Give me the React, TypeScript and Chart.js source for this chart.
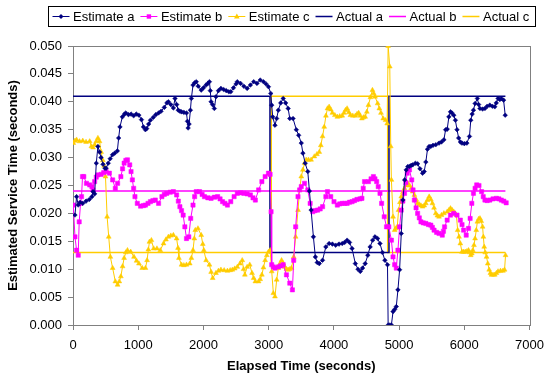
import React, { useEffect, useRef } from 'react';
import { Chart, registerables } from 'chart.js';

Chart.register(...registerables);

const FONT = 'Arial, "Liberation Sans", sans-serif';
const NAVY = '#000080';
const MAGENTA = '#FF00FF';
const GOLD = '#FFCC00';

const seriesLabels = ['Estimate a', 'Estimate b', 'Estimate c', 'Actual a', 'Actual b', 'Actual c'];
const xTitle = 'Elapsed Time (seconds)';
const yTitle = 'Estimated Service Time (seconds)';

// [elapsed seconds, service time seconds]
const estimateA: [number, number][] = [
  [30,0.0197],[55,0.0230],[80,0.0215],[110,0.0220],[150,0.0218],[200,0.0222],[250,0.0225],[290,0.0230],[307,0.0239],[332,0.0235],[357,0.0290],[382,0.0320],[407,0.0310],[430,0.0300],[460,0.0288],[490,0.0281],[508,0.0281],[540,0.0290],[570,0.0298],[606,0.0305],[640,0.0308],[680,0.0312],[700,0.0335],[720,0.0355],[757,0.0373],[790,0.0378],[810,0.0380],[850,0.0377],[890,0.0378],[930,0.0375],[970,0.0378],[1010,0.0376],[1050,0.0368],[1080,0.0355],[1110,0.0350],[1130,0.0352],[1160,0.0360],[1187,0.0367],[1230,0.0372],[1270,0.0377],[1312,0.0380],[1350,0.0383],[1400,0.0390],[1440,0.0398],[1463,0.0400],[1500,0.0395],[1539,0.0389],[1564,0.0406],[1590,0.0395],[1614,0.0385],[1640,0.0383],[1664,0.0382],[1700,0.0381],[1740,0.0380],[1755,0.0365],[1765,0.0353],[1780,0.0360],[1800,0.0385],[1815,0.0406],[1840,0.0430],[1865,0.0434],[1890,0.0436],[1920,0.0428],[1966,0.0421],[2000,0.0425],[2040,0.0430],[2067,0.0433],[2092,0.0436],[2105,0.0420],[2117,0.0400],[2140,0.0395],[2167,0.0388],[2192,0.0409],[2230,0.0420],[2268,0.0424],[2310,0.0422],[2350,0.0420],[2390,0.0418],[2419,0.0418],[2460,0.0425],[2500,0.0432],[2519,0.0436],[2569,0.0433],[2620,0.0428],[2670,0.0424],[2720,0.0430],[2771,0.0436],[2821,0.0433],[2871,0.0439],[2921,0.0436],[2960,0.0432],[2997,0.0427],[3032,0.0415],[3047,0.0394],[3062,0.0373],[3097,0.0358],[3123,0.0370],[3148,0.0385],[3185,0.0398],[3223,0.0406],[3260,0.0398],[3299,0.0388],[3324,0.0370],[3374,0.0370],[3424,0.0350],[3460,0.0340],[3500,0.0326],[3525,0.0308],[3560,0.0290],[3600,0.0275],[3625,0.0240],[3651,0.0206],[3686,0.0158],[3716,0.0122],[3745,0.0112],[3776,0.0110],[3826,0.0116],[3877,0.0140],[3927,0.0146],[3977,0.0145],[4028,0.0143],[4078,0.0145],[4128,0.0146],[4165,0.0148],[4203,0.0152],[4240,0.0148],[4279,0.0137],[4329,0.0110],[4370,0.0100],[4405,0.0096],[4440,0.0102],[4480,0.0110],[4520,0.0125],[4556,0.0140],[4595,0.0152],[4631,0.0158],[4670,0.0155],[4707,0.0146],[4745,0.0130],[4782,0.0116],[4822,0.0108],[4832,0.0000],[4857,0.0000],[4882,0.0000],[4907,0.0024],[4932,0.0028],[4957,0.0033],[4982,0.0063],[5008,0.0099],[5033,0.0164],[5058,0.0224],[5085,0.0260],[5109,0.0278],[5134,0.0284],[5159,0.0284],[5184,0.0286],[5209,0.0287],[5250,0.0290],[5284,0.0289],[5320,0.0280],[5360,0.0272],[5385,0.0275],[5410,0.0292],[5435,0.0315],[5460,0.0320],[5486,0.0320],[5520,0.0322],[5562,0.0323],[5612,0.0326],[5650,0.0328],[5687,0.0332],[5713,0.0350],[5738,0.0351],[5763,0.0373],[5788,0.0382],[5810,0.0380],[5838,0.0376],[5863,0.0367],[5888,0.0350],[5913,0.0335],[5940,0.0328],[5964,0.0326],[6000,0.0325],[6039,0.0326],[6079,0.0338],[6099,0.0367],[6120,0.0378],[6140,0.0385],[6165,0.0397],[6200,0.0406],[6220,0.0395],[6240,0.0388],[6280,0.0387],[6316,0.0388],[6350,0.0392],[6391,0.0394],[6430,0.0392],[6467,0.0391],[6490,0.0398],[6517,0.0406],[6545,0.0404],[6568,0.0406],[6602,0.0403],[6627,0.0376]
];

const estimateB: [number, number][] = [
  [5,0.0215],[30,0.0158],[55,0.0134],[80,0.0125],[95,0.0185],[116,0.0218],[131,0.0230],[146,0.0266],[166,0.0266],[206,0.0254],[256,0.0251],[290,0.0248],[307,0.0242],[332,0.0257],[357,0.0265],[382,0.0269],[432,0.0270],[470,0.0273],[508,0.0275],[558,0.0272],[608,0.0260],[649,0.0245],[684,0.0254],[734,0.0266],[760,0.0280],[784,0.0290],[810,0.0295],[835,0.0296],[870,0.0287],[890,0.0275],[910,0.0260],[930,0.0245],[950,0.0230],[986,0.0218],[1036,0.0213],[1080,0.0214],[1111,0.0215],[1150,0.0218],[1187,0.0221],[1225,0.0223],[1262,0.0224],[1312,0.0218],[1363,0.0230],[1400,0.0234],[1438,0.0236],[1490,0.0238],[1539,0.0239],[1589,0.0233],[1615,0.0222],[1639,0.0212],[1664,0.0205],[1689,0.0197],[1715,0.0176],[1740,0.0155],[1775,0.0158],[1805,0.0191],[1840,0.0215],[1865,0.0230],[1890,0.0239],[1941,0.0239],[1980,0.0234],[2016,0.0230],[2067,0.0228],[2117,0.0227],[2168,0.0229],[2218,0.0230],[2255,0.0226],[2293,0.0221],[2330,0.0218],[2368,0.0215],[2419,0.0221],[2470,0.0230],[2519,0.0236],[2570,0.0237],[2620,0.0236],[2670,0.0235],[2720,0.0233],[2760,0.0228],[2796,0.0224],[2846,0.0242],[2896,0.0257],[2946,0.0266],[2997,0.0272],[3022,0.0270],[3037,0.0203],[3047,0.0108],[3072,0.0104],[3097,0.0102],[3148,0.0104],[3185,0.0106],[3223,0.0108],[3273,0.0090],[3324,0.0075],[3364,0.0063],[3384,0.0116],[3414,0.0176],[3450,0.0230],[3475,0.0242],[3500,0.0248],[3550,0.0254],[3600,0.0242],[3636,0.0218],[3676,0.0203],[3710,0.0205],[3751,0.0206],[3790,0.0208],[3827,0.0212],[3877,0.0230],[3902,0.0239],[3952,0.0230],[4002,0.0221],[4053,0.0215],[4090,0.0217],[4128,0.0218],[4165,0.0218],[4203,0.0218],[4240,0.0220],[4279,0.0221],[4316,0.0223],[4354,0.0225],[4400,0.0226],[4430,0.0227],[4450,0.0245],[4470,0.0257],[4530,0.0257],[4570,0.0262],[4606,0.0266],[4630,0.0262],[4656,0.0257],[4680,0.0248],[4707,0.0236],[4732,0.0218],[4772,0.0194],[4807,0.0176],[4842,0.0176],[4882,0.0152],[4907,0.0122],[4932,0.0108],[4957,0.0102],[4982,0.0134],[5008,0.0176],[5033,0.0206],[5058,0.0222],[5083,0.0236],[5104,0.0255],[5124,0.0272],[5159,0.0278],[5194,0.0260],[5214,0.0242],[5234,0.0224],[5260,0.0210],[5284,0.0200],[5310,0.0192],[5335,0.0185],[5370,0.0183],[5410,0.0182],[5450,0.0180],[5486,0.0179],[5510,0.0175],[5536,0.0170],[5575,0.0166],[5612,0.0164],[5662,0.0161],[5680,0.0168],[5697,0.0176],[5737,0.0188],[5788,0.0197],[5838,0.0200],[5888,0.0197],[5939,0.0188],[5965,0.0180],[5989,0.0170],[6029,0.0161],[6064,0.0173],[6089,0.0191],[6115,0.0218],[6140,0.0236],[6165,0.0245],[6190,0.0251],[6225,0.0250],[6265,0.0239],[6290,0.0230],[6316,0.0224],[6350,0.0223],[6391,0.0224],[6440,0.0226],[6492,0.0227],[6530,0.0226],[6567,0.0224],[6605,0.0222],[6642,0.0219]
];

const estimateC: [number, number][] = [
  [5,0.0326],[30,0.0330],[55,0.0332],[100,0.0329],[150,0.0330],[200,0.0328],[256,0.0329],[282,0.0320],[307,0.0318],[332,0.0323],[357,0.0329],[382,0.0335],[407,0.0329],[432,0.0310],[457,0.0295],[478,0.0285],[498,0.0266],[523,0.0194],[548,0.0158],[573,0.0122],[608,0.0102],[649,0.0078],[684,0.0072],[710,0.0078],[734,0.0087],[760,0.0105],[784,0.0120],[810,0.0130],[835,0.0134],[885,0.0131],[935,0.0122],[975,0.0115],[1011,0.0110],[1061,0.0102],[1111,0.0102],[1136,0.0116],[1155,0.0135],[1172,0.0149],[1202,0.0152],[1237,0.0137],[1287,0.0137],[1338,0.0134],[1388,0.0146],[1425,0.0153],[1463,0.0158],[1500,0.0160],[1539,0.0161],[1589,0.0155],[1610,0.0138],[1624,0.0120],[1664,0.0108],[1700,0.0107],[1740,0.0108],[1790,0.0110],[1815,0.0120],[1840,0.0134],[1860,0.0155],[1875,0.0170],[1916,0.0173],[1966,0.0161],[1990,0.0145],[2006,0.0134],[2041,0.0116],[2092,0.0108],[2118,0.0095],[2142,0.0084],[2192,0.0093],[2230,0.0097],[2268,0.0099],[2318,0.0098],[2368,0.0097],[2410,0.0098],[2444,0.0099],[2480,0.0101],[2519,0.0104],[2560,0.0110],[2595,0.0116],[2615,0.0100],[2635,0.0090],[2670,0.0104],[2710,0.0108],[2745,0.0093],[2770,0.0084],[2796,0.0078],[2846,0.0078],[2870,0.0082],[2896,0.0090],[2920,0.0103],[2946,0.0116],[2972,0.0125],[2997,0.0131],[3022,0.0134],[3047,0.0096],[3072,0.0057],[3097,0.0051],[3123,0.0081],[3148,0.0102],[3173,0.0110],[3198,0.0116],[3223,0.0110],[3248,0.0104],[3274,0.0100],[3299,0.0099],[3324,0.0100],[3349,0.0102],[3384,0.0122],[3414,0.0158],[3450,0.0206],[3475,0.0242],[3500,0.0266],[3525,0.0278],[3550,0.0290],[3575,0.0296],[3610,0.0296],[3651,0.0296],[3700,0.0302],[3740,0.0306],[3776,0.0310],[3800,0.0322],[3826,0.0338],[3852,0.0355],[3878,0.0375],[3902,0.0388],[3927,0.0391],[3952,0.0386],[3977,0.0380],[4015,0.0376],[4053,0.0373],[4090,0.0374],[4128,0.0375],[4155,0.0380],[4178,0.0385],[4203,0.0388],[4230,0.0381],[4254,0.0376],[4290,0.0375],[4329,0.0375],[4355,0.0378],[4380,0.0380],[4405,0.0375],[4430,0.0370],[4455,0.0372],[4480,0.0373],[4505,0.0382],[4530,0.0394],[4560,0.0408],[4591,0.0421],[4611,0.0415],[4631,0.0409],[4671,0.0397],[4697,0.0388],[4722,0.0380],[4757,0.0370],[4792,0.0367],[4817,0.0361],[4832,0.0500],[4857,0.0463],[4872,0.0320],[4882,0.0260],[4907,0.0194],[4932,0.0170],[4952,0.0173],[4972,0.0176],[4992,0.0206],[5013,0.0220],[5033,0.0230],[5058,0.0238],[5083,0.0245],[5109,0.0250],[5134,0.0254],[5159,0.0250],[5184,0.0245],[5209,0.0239],[5234,0.0233],[5260,0.0225],[5284,0.0218],[5310,0.0216],[5335,0.0214],[5360,0.0212],[5385,0.0214],[5410,0.0218],[5435,0.0224],[5461,0.0230],[5486,0.0225],[5511,0.0218],[5536,0.0210],[5562,0.0200],[5587,0.0196],[5612,0.0194],[5650,0.0197],[5687,0.0200],[5737,0.0203],[5765,0.0206],[5788,0.0209],[5813,0.0206],[5838,0.0203],[5858,0.0200],[5878,0.0197],[5898,0.0170],[5919,0.0158],[5939,0.0146],[5964,0.0131],[5989,0.0131],[6014,0.0131],[6039,0.0132],[6064,0.0134],[6082,0.0130],[6099,0.0125],[6115,0.0128],[6130,0.0134],[6148,0.0143],[6165,0.0155],[6183,0.0170],[6200,0.0185],[6220,0.0190],[6240,0.0191],[6260,0.0186],[6280,0.0176],[6292,0.0158],[6305,0.0140],[6320,0.0130],[6341,0.0122],[6360,0.0110],[6381,0.0099],[6400,0.0093],[6416,0.0090],[6440,0.0090],[6467,0.0090],[6492,0.0093],[6517,0.0096],[6555,0.0097],[6592,0.0097],[6617,0.0099],[6632,0.0125]
];

const actualA: [number, number][] = [[0,0.041],[3020,0.041],[3020,0.013],[4845,0.013],[4845,0.041],[6630,0.041]];
const actualB: [number, number][] = [[0,0.024],[6630,0.024]];
const actualC: [number, number][] = [[0,0.013],[3040,0.013],[3040,0.041],[4825,0.041],[4825,0.013],[6630,0.013]];

const xTicks = [0, 1000, 2000, 3000, 4000, 5000, 6000, 7000];
const yTicks = [0, 0.005, 0.01, 0.015, 0.02, 0.025, 0.03, 0.035, 0.04, 0.045, 0.05];

type Marker = 'diamond' | 'square' | 'triangle' | 'none';
const legendStyle: { color: string; marker: Marker; lw: number }[] = [
  { color: NAVY, marker: 'diamond', lw: 1 },
  { color: MAGENTA, marker: 'square', lw: 1 },
  { color: GOLD, marker: 'triangle', lw: 1 },
  { color: NAVY, marker: 'none', lw: 1.5 },
  { color: MAGENTA, marker: 'none', lw: 1.5 },
  { color: GOLD, marker: 'none', lw: 1.5 },
];

function drawMarker(ctx: CanvasRenderingContext2D, m: Marker, x: number, y: number, color: string) {
  ctx.fillStyle = color;
  ctx.beginPath();
  if (m === 'diamond') {
    ctx.moveTo(x, y - 2.5); ctx.lineTo(x + 2.5, y); ctx.lineTo(x, y + 2.5); ctx.lineTo(x - 2.5, y); ctx.closePath();
  } else if (m === 'square') {
    ctx.rect(x - 2.2, y - 2.2, 4.4, 4.4);
  } else if (m === 'triangle') {
    ctx.moveTo(x, y - 3); ctx.lineTo(x + 2.8, y + 2); ctx.lineTo(x - 2.8, y + 2); ctx.closePath();
  } else return;
  ctx.fill();
}

const framePlugin = {
  id: 'frame',
  beforeDatasetsDraw(chart: any) {
    const { ctx, chartArea } = chart;
    ctx.save();
    ctx.strokeStyle = '#808080';
    ctx.lineWidth = 1;
    ctx.strokeRect(Math.round(chartArea.left) + 0.5, Math.round(chartArea.top) + 0.5,
      Math.round(chartArea.right - chartArea.left), Math.round(chartArea.bottom - chartArea.top));
    ctx.restore();
  },
};

const legendPlugin = {
  id: 'boxLegend',
  afterDraw(chart: any) {
    const ctx: CanvasRenderingContext2D = chart.ctx;
    ctx.save();
    ctx.font = `13px ${FONT}`;
    const lineLen = 17, gapText = 3.5, gapItem = 6, padL = 4, padR = 6;
    const widths = seriesLabels.map((l) => lineLen + gapText + ctx.measureText(l).width);
    const total = padL + widths.reduce((a, b) => a + b, 0) + gapItem * (seriesLabels.length - 1) + padR;
    const cx = 291.5, top = 6, h = 20;
    const x0 = Math.round(cx - total / 2) + 0.5;
    ctx.fillStyle = '#fff';
    ctx.fillRect(x0, top + 0.5, total, h);
    ctx.strokeStyle = '#000';
    ctx.lineWidth = 1;
    ctx.strokeRect(x0, top + 0.5, Math.round(total), h);
    let x = x0 + padL;
    const y = top + 0.5 + h / 2;
    seriesLabels.forEach((label, i) => {
      const st = legendStyle[i];
      ctx.strokeStyle = st.color;
      ctx.lineWidth = st.lw;
      ctx.beginPath();
      ctx.moveTo(x, y);
      ctx.lineTo(x + lineLen, y);
      ctx.stroke();
      drawMarker(ctx, st.marker, x + lineLen / 2, y, st.color);
      ctx.fillStyle = '#000';
      ctx.textBaseline = 'middle';
      ctx.textAlign = 'left';
      ctx.fillText(label, x + lineLen + gapText, y + 0.5);
      x += widths[i] + gapItem;
    });
    ctx.restore();
  },
};

const toXY = (arr: [number, number][]) => arr.map(([x, y]) => ({ x, y }));

export default function App() {
  const ref = useRef<HTMLCanvasElement | null>(null);
  useEffect(() => {
    document.body.style.margin = '0';
    if (!ref.current) return;
    const est = (label: string, data: [number, number][], color: string, style: string, r: number) => ({
      label,
      data: toXY(data),
      showLine: true,
      borderColor: color,
      backgroundColor: color,
      borderWidth: 1,
      pointStyle: style,
      pointRadius: r,
      pointBorderWidth: 0.5,
      pointBackgroundColor: color,
      pointBorderColor: color,
      tension: 0,
    });
    const act = (label: string, data: [number, number][], color: string) => ({
      label,
      data: toXY(data),
      showLine: true,
      borderColor: color,
      backgroundColor: color,
      borderWidth: 1.5,
      pointRadius: 0,
      tension: 0,
    });
    const chart = new Chart(ref.current, {
      type: 'scatter',
      data: {
        datasets: [
          est(seriesLabels[0], estimateA, NAVY, 'rectRot', 2.3),
          est(seriesLabels[1], estimateB, MAGENTA, 'rect', 3),
          est(seriesLabels[2], estimateC, GOLD, 'triangle', 2.8),
          act(seriesLabels[3], actualA, NAVY),
          act(seriesLabels[4], actualB, MAGENTA),
          act(seriesLabels[5], actualC, GOLD),
        ] as any,
      },
      options: {
        responsive: false,
        animation: false,
        events: [],
        layout: { padding: { left: 0, top: 46, right: 15, bottom: 0 } },
        plugins: { legend: { display: false }, tooltip: { enabled: false } },
        scales: {
          x: {
            type: 'linear',
            min: 0,
            max: 7000,
            afterBuildTicks: (s: any) => { s.ticks = xTicks.map((v) => ({ value: v })); },
            ticks: { autoSkip: false, maxRotation: 0, color: '#000', padding: 8, font: { family: FONT, size: 13 }, callback: (v: any) => String(v) },
            grid: { drawOnChartArea: false, tickLength: 5, color: '#808080' },
            border: { color: '#808080' },
            title: { display: true, text: xTitle, color: '#000', padding: { top: 0, bottom: 7 }, font: { family: FONT, size: 13, weight: 'bold' } },
            afterFit: (s: any) => { s.height = 56; },
          },
          y: {
            type: 'linear',
            min: 0,
            max: 0.05,
            afterBuildTicks: (s: any) => { s.ticks = yTicks.map((v) => ({ value: v })); },
            ticks: { autoSkip: false, color: '#000', padding: 6, font: { family: FONT, size: 13 }, callback: (v: any) => Number(v).toFixed(3) },
            grid: { drawOnChartArea: false, tickLength: 5, color: '#808080' },
            border: { color: '#808080' },
            title: { display: true, text: yTitle, color: '#000', padding: { top: 6, bottom: 0 }, font: { family: FONT, size: 13, weight: 'bold' } },
            afterFit: (s: any) => { s.width = 73; },
          },
        },
      } as any,
      plugins: [framePlugin, legendPlugin],
    });
    return () => chart.destroy();
  }, []);
  return (
    <div style={{ width: 552, height: 381 }}>
      <canvas ref={ref} width={552} height={381} style={{ display: 'block', width: 552, height: 381 }} />
    </div>
  );
}
